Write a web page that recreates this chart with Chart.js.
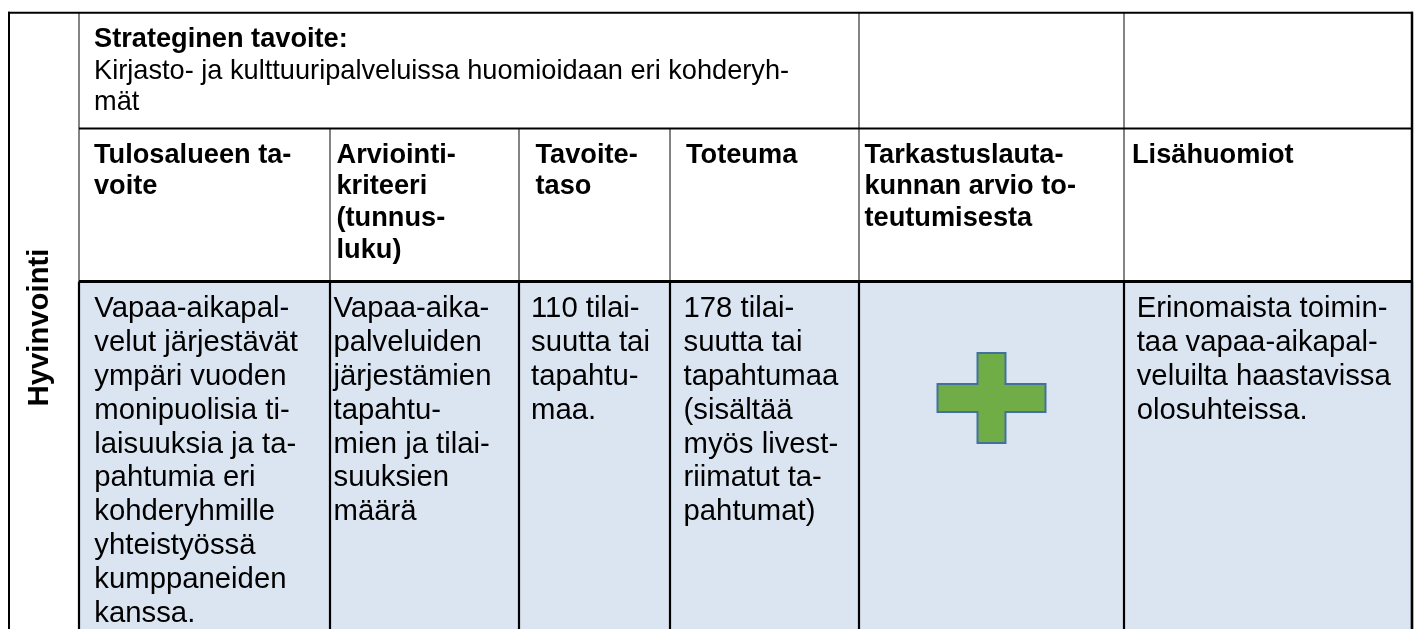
<!DOCTYPE html>
<html lang="fi">
<head>
<meta charset="utf-8">
<title>Hyvinvointi – tavoitteet ja toteuma</title>
<script src="https://cdn.jsdelivr.net/npm/chart.js@4.4.1/dist/chart.umd.min.js"></script>
<style>
  html, body { margin: 0; padding: 0; background: #fff; }
  #goalTable { display: block; }
</style>
</head>
<body>
<canvas id="goalTable" width="1416" height="629"></canvas>
<script>
// DATA
const sectionName = "Hyvinvointi";
const goalTitle = "Strateginen tavoite:";
const goalText = ["Kirjasto- ja kulttuuripalveluissa huomioidaan eri kohderyh-", "mät"];

const headers = [
  ["Tulosalueen ta-", "voite"],
  ["Arviointi-", "kriteeri", "(tunnus-", "luku)"],
  ["Tavoite-", "taso"],
  ["Toteuma"],
  ["Tarkastuslauta-", "kunnan arvio to-", "teutumisesta"],
  ["Lisähuomiot"],
];

const rowValues = [
  ["Vapaa-aikapal-", "velut järjestävät", "ympäri vuoden", "monipuolisia ti-", "laisuuksia ja ta-",
   "pahtumia eri", "kohderyhmille", "yhteistyössä", "kumppaneiden", "kanssa."],
  ["Vapaa-aika-", "palveluiden", "järjestämien", "tapahtu-", "mien ja tilai-", "suuksien", "määrä"],
  ["110 tilai-", "suutta tai", "tapahtu-", "maa."],
  ["178 tilai-", "suutta tai", "tapahtumaa", "(sisältää", "myös livest-", "riimatut ta-", "pahtumat)"],
  [],
  ["Erinomaista toimin-", "taa vapaa-aikapal-", "veluilta haastavissa", "olosuhteissa."],
];

// arvio per rivi: "+" = toteutunut
const assessments = ["+"];
const assessmentColumn = 4;

// LAYOUT
const layout = {
  width: 1416,
  height: 629,
  left: 9,
  right: 1412,
  cols: [79, 330, 519, 670, 859, 1124, 1412],
  goalSplit: [859, 1124],
  rows: [12.7, 128.5, 281.5, 629],
  goalPad: 15,
  headerPad: [15, 6.5, 16.5, 16, 5.5, 8],
  dataPad: [15.3, 3.5, 12, 13.5, 0, 12.7],
  headerFont: 27.2,
  dataFont: 29.3,
  sectionFont: 29.3,
  firstBaseline: 34.2,
  dataBaseline: 35.8,
  lineHeight: 31.7,
  dataLineHeight: 33.8,
  symbolOffset: 116.5,
  sectionX: 48,
  sectionY: 327.5,
};

const font = "'Liberation Sans', Arial, sans-serif";

function plusImage() {
  const w = 112, h = 94;
  const c = document.createElement("canvas");
  c.width = w;
  c.height = h;
  const g = c.getContext("2d");
  const cx = w / 2, cy = h / 2, aw = 54, ah = 45, th = 14;
  g.beginPath();
  g.moveTo(cx - th, cy - ah);
  g.lineTo(cx + th, cy - ah);
  g.lineTo(cx + th, cy - th);
  g.lineTo(cx + aw, cy - th);
  g.lineTo(cx + aw, cy + th);
  g.lineTo(cx + th, cy + th);
  g.lineTo(cx + th, cy + ah);
  g.lineTo(cx - th, cy + ah);
  g.lineTo(cx - th, cy + th);
  g.lineTo(cx - aw, cy + th);
  g.lineTo(cx - aw, cy - th);
  g.lineTo(cx - th, cy - th);
  g.closePath();
  g.fillStyle = "#70ad47";
  g.fill();
  g.lineWidth = 2;
  g.strokeStyle = "#41719c";
  g.stroke();
  return c;
}

function setupTable() {
  const canvas = document.querySelector("#goalTable");
  if (!canvas) return;

  const L = layout;
  const colCenter = (i) => (L.cols[i] + L.cols[i + 1]) / 2;

  const tablePlugin = {
    id: "tableGrid",
    beforeDatasetsDraw(chart) {
      const { ctx } = chart;
      const sx = chart.scales.x;
      const sy = chart.scales.y;
      const px = (v) => sx.getPixelForValue(v);
      const py = (v) => sy.getPixelForValue(v);

      function seg(x1, y1, x2, y2, w, color) {
        ctx.beginPath();
        ctx.moveTo(px(x1), py(y1));
        ctx.lineTo(px(x2), py(y2));
        ctx.lineWidth = w;
        ctx.strokeStyle = color;
        ctx.stroke();
      }

      function text(lines, x, y, lh, size, bold) {
        ctx.font = (bold ? "bold " : "") + size + "px " + font;
        lines.forEach((line, i) => ctx.fillText(line, px(x), py(y + i * lh)));
      }

      ctx.save();
      // taustat
      ctx.fillStyle = "#dbe5f1";
      ctx.fillRect(px(L.cols[0]), py(L.rows[2]), px(L.right) - px(L.cols[0]), py(L.rows[3]) - py(L.rows[2]));

      // tekstit
      ctx.fillStyle = "#000";
      ctx.textAlign = "left";
      ctx.textBaseline = "alphabetic";
      const gx = L.cols[0] + L.goalPad;
      const gy = L.rows[0] + L.firstBaseline;
      text([goalTitle], gx, gy, L.lineHeight, L.headerFont, true);
      text(goalText, gx, gy + L.lineHeight, L.lineHeight, L.headerFont, false);

      headers.forEach((h, i) => {
        text(h, L.cols[i] + L.headerPad[i], L.rows[1] + L.firstBaseline, L.lineHeight, L.headerFont, true);
      });
      rowValues.forEach((v, i) => {
        text(v, L.cols[i] + L.dataPad[i], L.rows[2] + L.dataBaseline, L.dataLineHeight, L.dataFont, false);
      });

      ctx.save();
      ctx.translate(px(L.sectionX), py(L.sectionY));
      ctx.rotate(-Math.PI / 2);
      ctx.textAlign = "center";
      ctx.font = "bold " + L.sectionFont + "px " + font;
      ctx.fillText(sectionName, 0, 0);
      ctx.restore();

      // viivat
      const gray = "#5a5a5a";
      L.goalSplit.forEach((x) => seg(x, L.rows[0], x, L.rows[1], 1.5, gray));
      L.cols.slice(1, -1).forEach((x) => seg(x, L.rows[1], x, L.rows[2], 1.5, gray));
      seg(L.cols[0], L.rows[0], L.cols[0], L.rows[2], 1.5, gray);
      L.cols.forEach((x) => seg(x, L.rows[2], x, L.rows[3], 2.2, "#000"));
      seg(L.cols[0], L.rows[1], L.right, L.rows[1], 2, "#000");
      seg(L.cols[0], L.rows[2], L.right, L.rows[2], 3, "#000");
      seg(L.left, L.rows[0] - 1, L.left, L.rows[3], 2, "#000");
      seg(L.right, L.rows[0] - 1, L.right, L.rows[3], 2.5, "#000");
      seg(L.left - 1, L.rows[0], L.right + 1, L.rows[0], 2, "#000");
      ctx.restore();
    },
  };

  const points = assessments
    .map((a) => (a === "+" ? { x: colCenter(assessmentColumn), y: L.rows[2] + L.symbolOffset } : null))
    .filter(Boolean);

  new Chart(canvas, {
    type: "scatter",
    data: {
      datasets: [
        {
          label: "Arvio",
          data: points,
          pointStyle: plusImage(),
          pointRadius: 1,
          pointHoverRadius: 1,
        },
      ],
    },
    options: {
      responsive: false,
      animation: false,
      devicePixelRatio: 1,
      layout: { padding: 0, autoPadding: false },
      events: [],
      plugins: {
        legend: { display: false },
        tooltip: { enabled: false },
      },
      scales: {
        x: { type: "linear", min: 0, max: L.width, display: false },
        y: { type: "linear", min: 0, max: L.height, reverse: true, display: false },
      },
    },
    plugins: [tablePlugin],
  });
}

// INIT
document.addEventListener("DOMContentLoaded", setupTable);
</script>
</body>
</html>
